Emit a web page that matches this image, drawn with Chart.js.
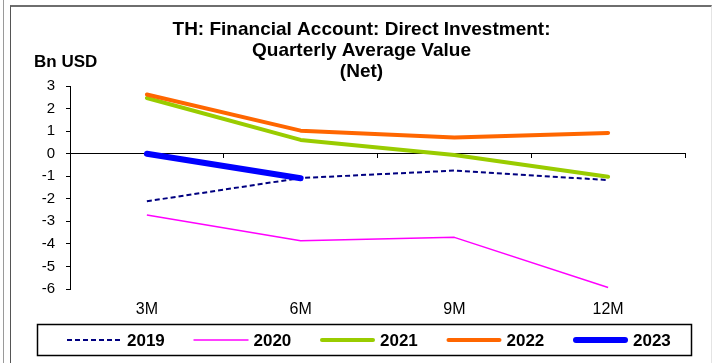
<!DOCTYPE html>
<html>
<head>
<meta charset="utf-8">
<script src="https://cdn.jsdelivr.net/npm/chart.js@4.4.1/dist/chart.umd.min.js"></script>
<style>
    html, body { margin: 0; padding: 0; background: #ffffff; }
    #wrap { position: relative; width: 712px; height: 363px; overflow: hidden; }
    #outer { position: absolute; left: 3px; top: 0; bottom: 0; border-left: 1px solid #9a9a9a; }
    #frame { position: absolute; left: 10px; top: 5px; right: 0; bottom: -2px;
             border-left: 1px solid #555555; border-top: 2px solid #6e6e6e; border-right: 1px solid #e4e4e4; }
    canvas { position: absolute; left: 0; top: 0; }
</style>
</head>
<body>
<div id="wrap">
    <div id="outer"></div>
    <div id="frame"></div>
    <canvas id="fdiChart" width="712" height="363"></canvas>
</div>
<script>
    const labels = ['3M', '6M', '9M', '12M'];
    const years = ['2019', '2020', '2021', '2022', '2023'];

    // Bn USD, quarterly average, net
    const fdi2019 = [-2.11, -1.08, -0.75, -1.17];
    const fdi2020 = [-2.72, -3.86, -3.71, -5.93];
    const fdi2021 = [2.47, 0.61, -0.06, -1.02];
    const fdi2022 = [2.62, 1.02, 0.72, 0.92];
    const fdi2023 = [0.0, -1.09, null, null];

    const FONT = "'Liberation Sans', Arial, sans-serif";

    // axis unit above the y scale
    const unitLabel = {
        id: 'unitLabel',
        afterDraw(chart) {
            const ctx = chart.ctx;
            ctx.save();
            ctx.font = 'bold 17px ' + FONT;
            ctx.fillStyle = '#000';
            ctx.textAlign = 'left';
            ctx.textBaseline = 'middle';
            ctx.fillText('Bn USD', 34, 62);
            ctx.restore();
        }
    };

    // boxed legend along the bottom
    const boxLegend = {
        id: 'boxLegend',
        afterDraw(chart) {
            const ctx = chart.ctx;
            ctx.save();
            ctx.strokeStyle = '#000';
            ctx.lineWidth = 1.5;
            ctx.strokeRect(37.5, 324.5, 654, 31);
            const cy = 340;
            chart.data.datasets.forEach((ds, i) => {
                const x0 = 67 + i * 126.5;
                ctx.beginPath();
                ctx.strokeStyle = ds.borderColor;
                ctx.lineWidth = ds.borderWidth;
                ctx.lineCap = ds.borderCapStyle || 'butt';
                ctx.setLineDash(ds.borderDash || []);
                const inset = ctx.lineCap === 'round' ? ds.borderWidth / 2 : 0;
                ctx.moveTo(x0 + inset, cy);
                ctx.lineTo(x0 + 55 - inset, cy);
                ctx.stroke();
                ctx.setLineDash([]);
                ctx.font = 'bold 17px ' + FONT;
                ctx.fillStyle = '#000';
                ctx.textAlign = 'left';
                ctx.textBaseline = 'middle';
                ctx.fillText(ds.label, x0 + 60, cy + 1);
            });
            ctx.restore();
        }
    };

    new Chart(document.getElementById('fdiChart'), {
        type: 'line',
        data: {
            labels: labels,
            datasets: [
                {
                    label: years[0],
                    data: fdi2019,
                    borderColor: '#000080',
                    borderWidth: 2,
                    borderDash: [5, 3],
                    order: 5
                },
                {
                    label: years[1],
                    data: fdi2020,
                    borderColor: '#ff00ff',
                    borderWidth: 1.5,
                    order: 4
                },
                {
                    label: years[2],
                    data: fdi2021,
                    borderColor: '#99cc00',
                    borderWidth: 4,
                    borderCapStyle: 'round',
                    order: 3
                },
                {
                    label: years[3],
                    data: fdi2022,
                    borderColor: '#ff6600',
                    borderWidth: 4,
                    borderCapStyle: 'round',
                    order: 2
                },
                {
                    label: years[4],
                    data: fdi2023,
                    borderColor: '#0000ff',
                    borderWidth: 6,
                    borderCapStyle: 'round',
                    order: 1
                }
            ]
        },
        options: {
            responsive: false,
            animation: false,
            spanGaps: false,
            elements: {
                point: { radius: 0, hoverRadius: 0 },
                line: { tension: 0, fill: false, borderJoinStyle: 'round' }
            },
            layout: { padding: { left: 38, right: 27, top: 10, bottom: 44 } },
            plugins: {
                legend: { display: false },
                tooltip: { enabled: false },
                title: {
                    display: true,
                    text: ['TH: Financial Account: Direct Investment:', 'Quarterly Average Value', '(Net)'],
                    color: '#000',
                    font: { family: FONT, size: 19, weight: 'bold', lineHeight: 1.1 },
                    padding: { top: 9.5, bottom: 3.8 }
                }
            },
            scales: {
                x: {
                    type: 'category',
                    offset: true,
                    border: { display: false },
                    grid: { display: false, drawTicks: false },
                    ticks: { color: '#000', font: { family: FONT, size: 16 }, padding: 11, maxRotation: 0 },
                    afterFit: (scale) => { scale.height = 30; }
                },
                x2: {
                    type: 'category',
                    axis: 'x',
                    position: { y: 0 },
                    offset: true,
                    border: { display: true, color: '#000', width: 1 },
                    grid: { display: true, drawOnChartArea: false, drawTicks: true, tickLength: 4, offset: true, color: '#000' },
                    ticks: { display: false }
                },
                y: {
                    min: -6,
                    max: 3,
                    border: { display: true, color: '#000', width: 1 },
                    grid: { drawOnChartArea: false, drawTicks: true, tickLength: 4, color: '#000' },
                    ticks: { stepSize: 1, color: '#000', font: { family: FONT, size: 15 }, padding: 11 },
                    afterFit: (scale) => { scale.width = 32; }
                }
            }
        },
        plugins: [unitLabel, boxLegend]
    });
</script>
</body>
</html>
